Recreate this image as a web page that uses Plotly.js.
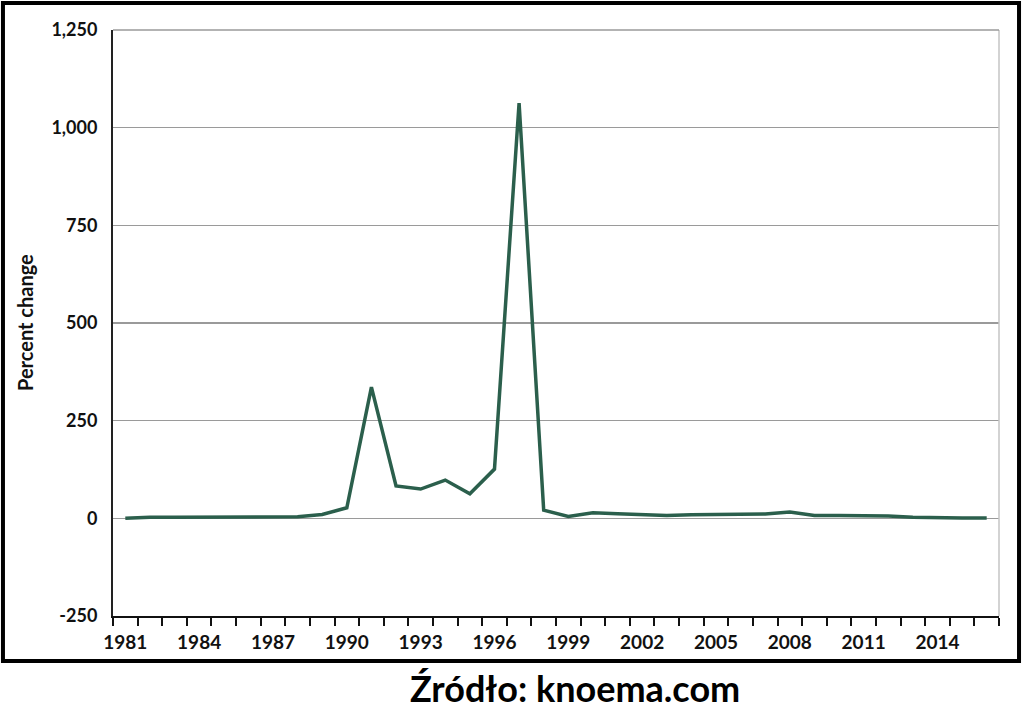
<!DOCTYPE html>
<html>
<head>
<meta charset="utf-8">
<script src="https://cdn.plot.ly/plotly-3.0.1.min.js"></script>
<style>
  html, body { margin: 0; padding: 0; background: #fff; }
  #chart { width: 1024px; height: 712px; }
</style>
</head>
<body>
<div id="chart"></div>
<script>
const years = [1981,1982,1983,1984,1985,1986,1987,1988,1989,1990,
               1991,1992,1993,1994,1995,1996,1997,1998,1999,2000,
               2001,2002,2003,2004,2005,2006,2007,2008,2009,2010,
               2011,2012,2013,2014,2015,2016];
const percentChange = [0,3,3,3,3,3,3,4,10,27,
                       336,83,75,98,63,126,1063,21,5,14,
                       12,10,7,9,9,11,11,16,7,7,
                       7,6,3,1,1,1];
const xTickYears = [1981,1984,1987,1990,1993,1996,1999,2002,2005,2008,2011,2014];
const xTickLabels = xTickYears.map(String);
const yTickValues = [-250,0,250,500,750,1000,1250];
const yTickLabels = ["-250","0","250","500","750","1,000","1,250"];
const yTitle = "Percent change";
const sourceText = "Źródło: knoema.com";

const boundaries = years.map(y => y - 0.5).concat([years[years.length-1] + 0.5]);

const font = "Lato, 'Open Sans', sans-serif";

const trace = {
  x: years,
  y: percentChange,
  type: "scatter",
  mode: "lines",
  line: { color: "#2b5f4c", width: 3.5 },
  hoverinfo: "x+y"
};

const layout = {
  width: 1024,
  height: 712,
  margin: { l: 113, r: 25, t: 30, b: 96 },
  paper_bgcolor: "#ffffff",
  plot_bgcolor: "#ffffff",
  showlegend: false,
  font: { family: font, color: "#111" },
  xaxis: {
    range: [1980.5, 2016.5],
    tickmode: "array",
    tickvals: xTickYears,
    ticktext: xTickLabels,
    ticks: "outside",
    ticklen: 8,
    tickcolor: "rgba(0,0,0,0)",
    tickfont: { family: font, size: 19, color: "#111", weight: "bold" },
    showgrid: false,
    zeroline: false,
    showline: true,
    linecolor: "#111",
    linewidth: 2,
    minor: {
      tickmode: "array",
      tickvals: boundaries,
      ticks: "outside",
      ticklen: 8,
      tickwidth: 2,
      tickcolor: "#111",
      showgrid: false
    },
    fixedrange: true
  },
  yaxis: {
    range: [-250, 1250],
    tickmode: "array",
    tickvals: yTickValues,
    ticktext: yTickLabels,
    ticks: "outside",
    ticklen: 10,
    tickcolor: "rgba(0,0,0,0)",
    tickfont: { family: font, size: 18, color: "#111", weight: "bold" },
    showgrid: true,
    gridcolor: "#9a9a9a",
    gridwidth: 1.5,
    zeroline: false,
    showline: true,
    linecolor: "#222",
    linewidth: 2,
    fixedrange: true
  },
  shapes: [
    { type: "line", xref: "paper", yref: "paper", x0: 1, x1: 1, y0: 0, y1: 1,
      line: { color: "#c4c4c4", width: 1.5 } },
    { type: "line", xref: "paper", yref: "paper", x0: 0, x1: 1, y0: 1, y1: 1,
      line: { color: "#9a9a9a", width: 1.5 } },
    { type: "rect", xref: "paper", yref: "paper",
      x0: -0.1242, x1: 1.0226, y0: -0.0768, y1: 1.0461,
      line: { color: "#000", width: 4 }, fillcolor: "rgba(0,0,0,0)" }
  ],
  annotations: [
    { text: yTitle, xref: "paper", yref: "paper", x: -0.0993, y: 0.5,
      xanchor: "center", yanchor: "middle", textangle: -90, showarrow: false,
      font: { family: font, size: 20, color: "#111", weight: "bold" } },
    { text: sourceText, xref: "paper", yref: "paper", x: 0.5217, y: -0.1229,
      xanchor: "center", yanchor: "middle", showarrow: false,
      font: { family: font, size: 36, color: "#000", weight: "bold" } }
  ]
};

Plotly.newPlot("chart", [trace], layout, { displayModeBar: false, staticPlot: true });
</script>
</body>
</html>
